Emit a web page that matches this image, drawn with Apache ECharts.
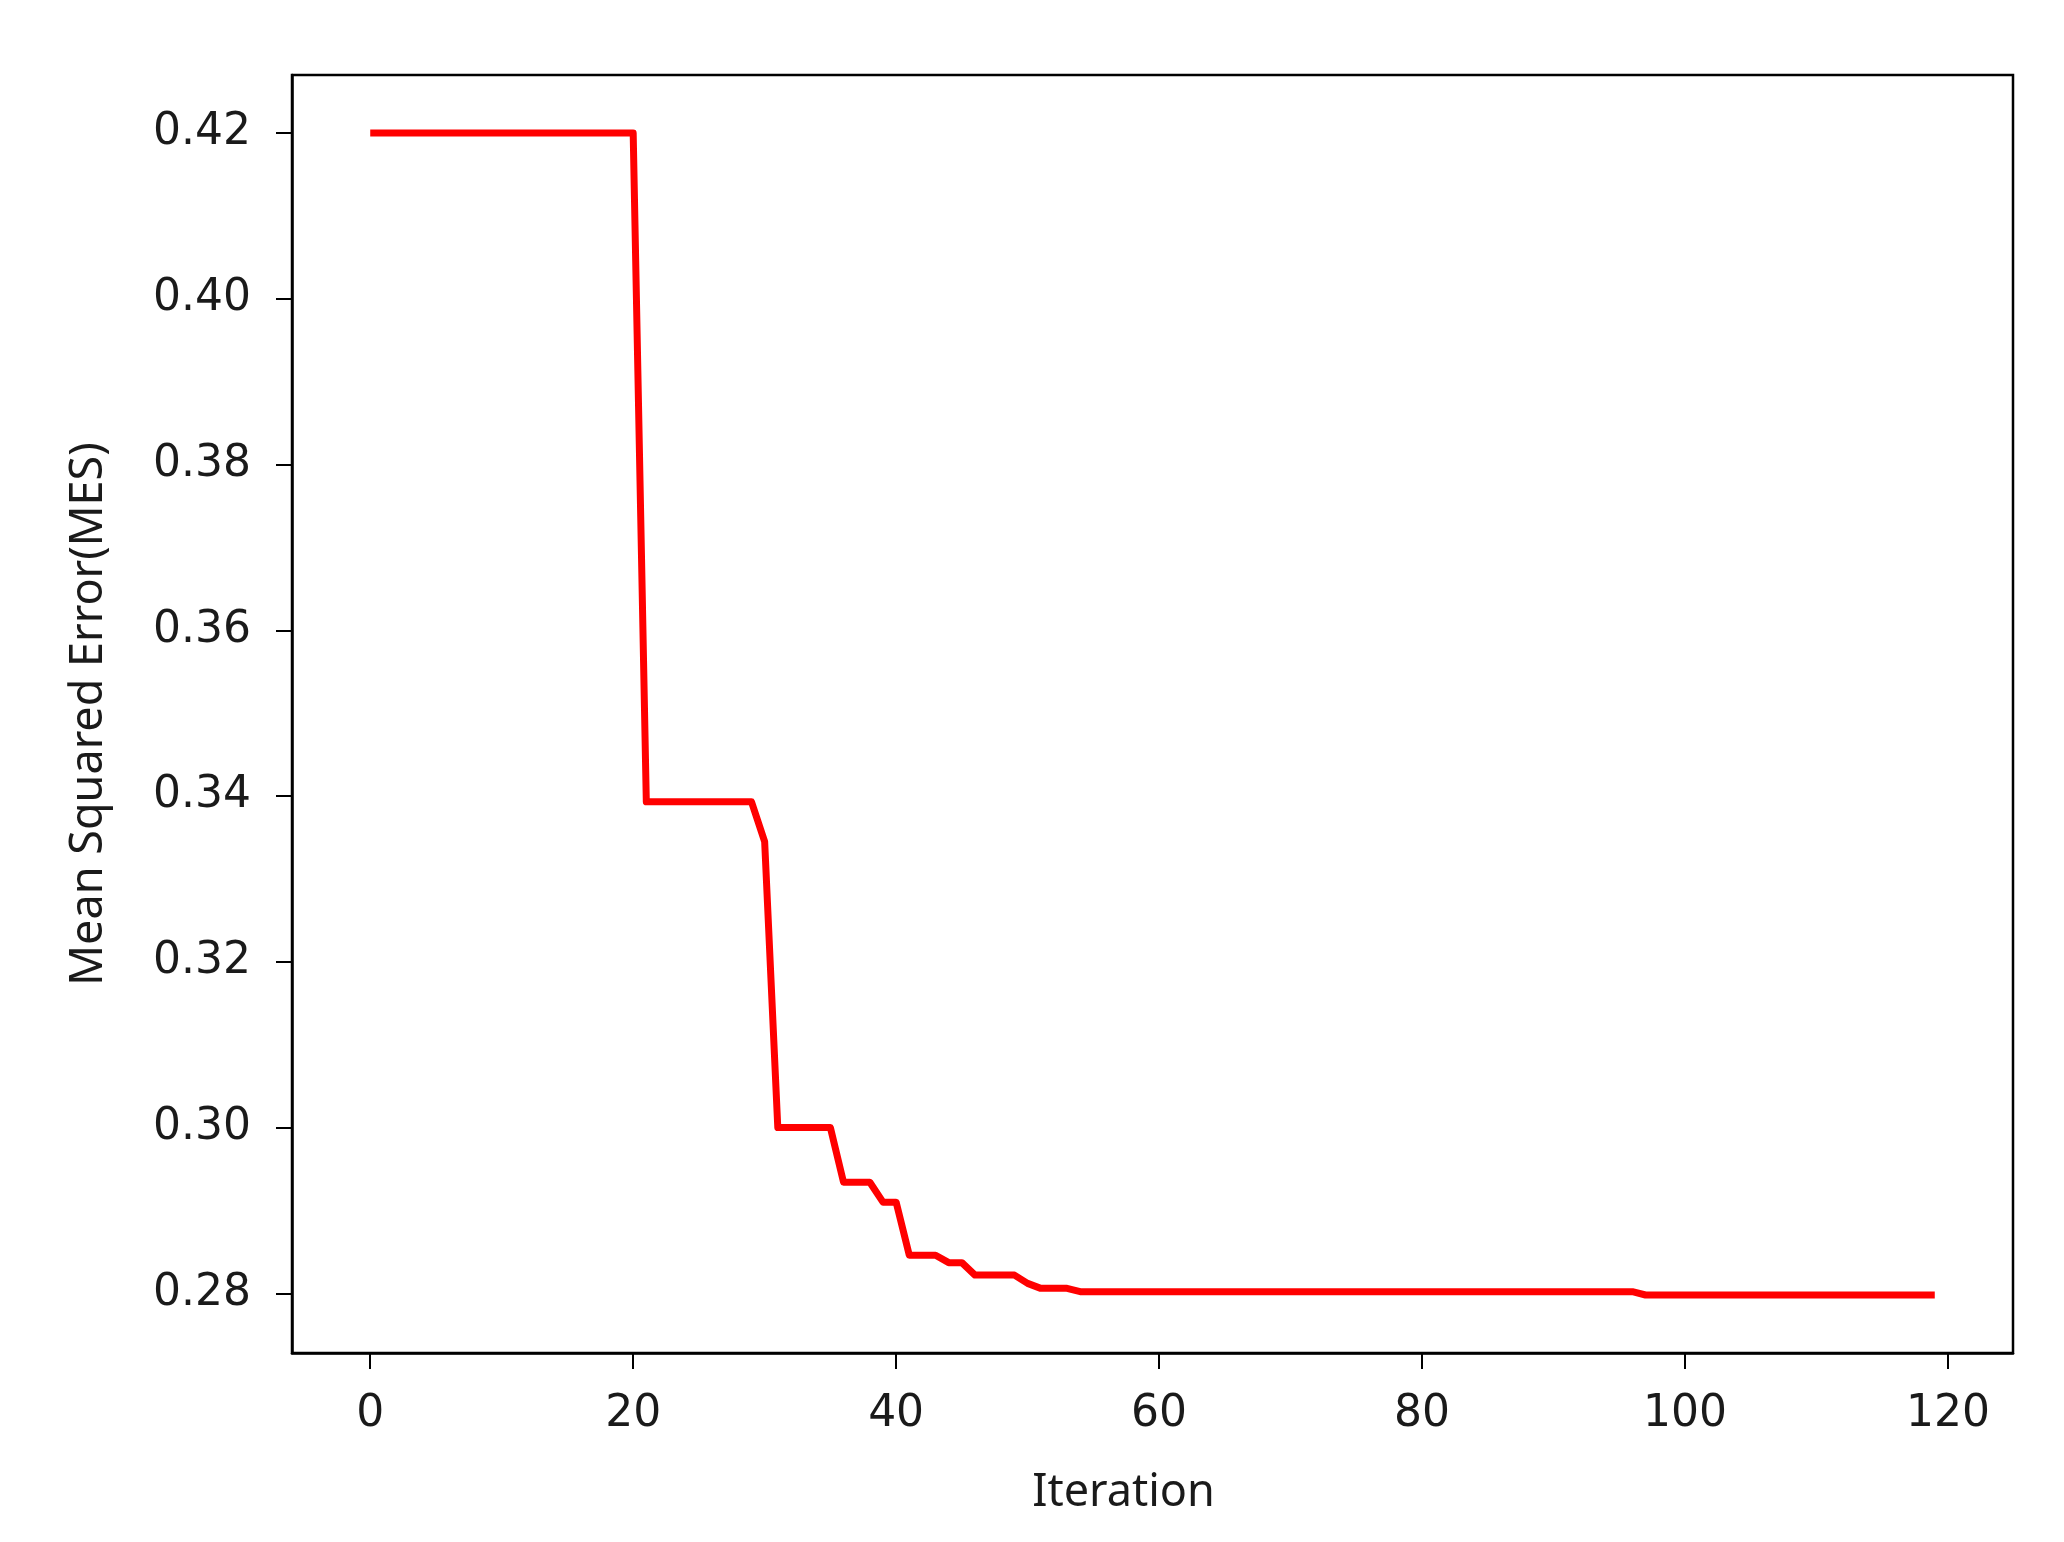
<!DOCTYPE html>
<html>
<head>
<meta charset="utf-8">
<title>MSE</title>
<script src="https://cdn.jsdelivr.net/npm/echarts@6/dist/echarts.min.js"></script>
<style>
  html, body { margin: 0; padding: 0; background: #fff; }
  #chart { width: 2064px; height: 1542px; }
</style>
</head>
<body>
<div id="chart"></div>
<script>
// mean squared error per iteration
var mseValues = [
    0.42, 0.42, 0.42, 0.42, 0.42, 0.42, 0.42, 0.42, 0.42, 0.42,
    0.42, 0.42, 0.42, 0.42, 0.42, 0.42, 0.42, 0.42, 0.42, 0.42,
    0.42, 0.3393, 0.3393, 0.3393, 0.3393, 0.3393, 0.3393, 0.3393, 0.3393, 0.3393,
    0.3345, 0.300, 0.300, 0.300, 0.300, 0.300, 0.2934, 0.2934, 0.2934, 0.2910,
    0.2910, 0.2846, 0.2846, 0.2846, 0.2837, 0.2837, 0.2822, 0.2822, 0.2822, 0.2822,
    0.2812, 0.2806, 0.2806, 0.2806, 0.2802, 0.2802, 0.2802, 0.2802, 0.2802, 0.2802,
    0.2802, 0.2802, 0.2802, 0.2802, 0.2802, 0.2802, 0.2802, 0.2802, 0.2802, 0.2802,
    0.2802, 0.2802, 0.2802, 0.2802, 0.2802, 0.2802, 0.2802, 0.2802, 0.2802, 0.2802,
    0.2802, 0.2802, 0.2802, 0.2802, 0.2802, 0.2802, 0.2802, 0.2802, 0.2802, 0.2802,
    0.2802, 0.2802, 0.2802, 0.2802, 0.2802, 0.2802, 0.2802, 0.2798, 0.2798, 0.2798,
    0.2798, 0.2798, 0.2798, 0.2798, 0.2798, 0.2798, 0.2798, 0.2798, 0.2798, 0.2798,
    0.2798, 0.2798, 0.2798, 0.2798, 0.2798, 0.2798, 0.2798, 0.2798, 0.2798, 0.2798
];
var xTicks = [0, 20, 40, 60, 80, 100, 120];
var yTicks = [0.28, 0.30, 0.32, 0.34, 0.36, 0.38, 0.40, 0.42];
var yTickLabels = ['0.28', '0.30', '0.32', '0.34', '0.36', '0.38', '0.40', '0.42'];

var tickFont = '"DejaVu Sans", sans-serif';
var nameFont = '"Noto Sans", sans-serif';

var myChart = echarts.init(document.getElementById('chart'));

var seriesData = mseValues.map(function (v, i) {
    return [i, v];
});

var option = {
    animation: false,
    grid: {
        left: 292,
        right: 51,
        top: 75,
        bottom: 189,
        show: true,
        borderColor: '#000',
        borderWidth: 2.5,
        backgroundColor: '#fff'
    },
    xAxis: {
        type: 'value',
        min: -5.95,
        max: 124.95,
        name: 'Iteration',
        nameLocation: 'middle',
        nameGap: 118,
        nameTextStyle: {
            fontFamily: nameFont,
            fontSize: 45,
            color: '#1a1a1a',
            padding: [0, 58, 0, 0]
        },
        axisLine: { show: true, onZero: false, lineStyle: { color: '#000', width: 2.5 } },
        axisTick: {
            show: true,
            length: 16,
            customValues: xTicks,
            lineStyle: { color: '#000', width: 2 }
        },
        axisLabel: {
            customValues: xTicks,
            margin: 40,
            fontFamily: tickFont,
            fontSize: 44,
            color: '#1a1a1a'
        },
        splitLine: { show: false }
    },
    yAxis: {
        type: 'value',
        min: 0.2728,
        max: 0.427,
        name: 'Mean Squared Error(MES)',
        nameLocation: 'middle',
        nameRotate: 90,
        nameGap: 180,
        nameTextStyle: {
            fontFamily: nameFont,
            fontSize: 45,
            color: '#1a1a1a'
        },
        axisLine: { show: true, onZero: false, lineStyle: { color: '#000', width: 2.5 } },
        axisTick: {
            show: true,
            length: 16,
            customValues: yTicks,
            lineStyle: { color: '#000', width: 2 }
        },
        axisLabel: {
            customValues: yTicks,
            margin: 41,
            fontFamily: tickFont,
            fontSize: 44,
            color: '#1a1a1a',
            formatter: function (val) {
                var k = yTicks.indexOf(Math.round(val * 100) / 100);
                return k >= 0 ? yTickLabels[k] : '';
            }
        },
        splitLine: { show: false }
    },
    series: [{
        name: 'MSE',
        type: 'line',
        data: seriesData,
        showSymbol: false,
        symbol: 'none',
        lineStyle: {
            color: '#ff0000',
            width: 7,
            join: 'round'
        },
        itemStyle: { color: '#ff0000' }
    }]
};

myChart.setOption(option);
</script>
</body>
</html>
